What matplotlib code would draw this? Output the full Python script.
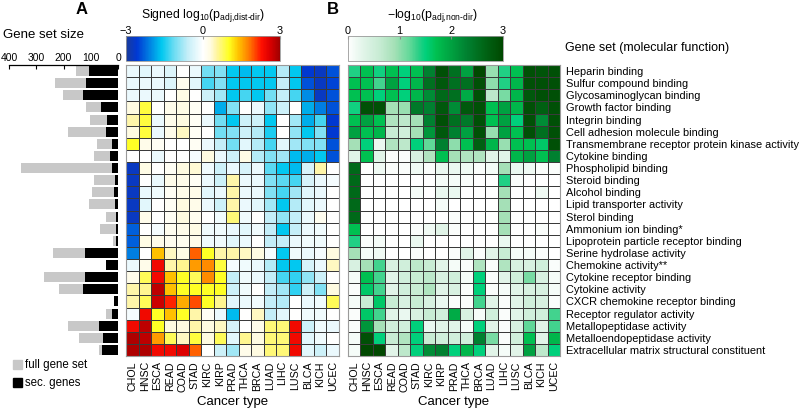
import numpy as np
import matplotlib
matplotlib.use("Agg")
import matplotlib.pyplot as plt
from matplotlib.colors import LinearSegmentedColormap, Normalize
from matplotlib.cm import ScalarMappable

plt.rcParams['font.family'] = ['Liberation Sans', 'DejaVu Sans']
plt.rcParams['mathtext.fontset'] = 'custom'
plt.rcParams['mathtext.rm'] = 'Liberation Sans'
plt.rcParams['mathtext.it'] = 'Liberation Sans'

cancer_types = ["CHOL", "HNSC", "ESCA", "READ", "COAD", "STAD", "KIRC", "KIRP", "PRAD",
                "THCA", "BRCA", "LUAD", "LIHC", "LUSC", "BLCA", "KICH", "UCEC"]

gene_sets = ["Heparin binding", "Sulfur compound binding", "Glycosaminoglycan binding",
             "Growth factor binding", "Integrin binding", "Cell adhesion molecule binding",
             "Transmembrane receptor protein kinase activity", "Cytokine binding",
             "Phospholipid binding", "Steroid binding", "Alcohol binding",
             "Lipid transporter activity", "Sterol binding", "Ammonium ion binding*",
             "Lipoprotein particle receptor binding", "Serine hydrolase activity",
             "Chemokine activity**", "Cytokine receptor binding", "Cytokine activity",
             "CXCR chemokine receptor binding", "Receptor regulator activity",
             "Metallopeptidase activity", "Metalloendopeptidase activity",
             "Extracellular matrix structural constituent"]

full_size = [155, 232, 201, 118, 101, 183, 76, 88, 357, 88, 95, 106, 43, 67, 18, 240,
             43, 270, 218, 13, 43, 183, 144, 71]
sec_size = [106, 116, 128, 63, 40, 45, 21, 28, 21, 11, 16, 11, 9, 6, 6, 120,
            43, 120, 128, 13, 21, 71, 55, 57]

signed_logp = [
    [-0.2, -0.3, -0.2, -0.35, 0.0, -0.2, -1.1, -1.0, -1.6, -1.7, -1.6, -1.6, -0.7, -1.6, -2.6, -2.7, -2.4],
    [-0.2, -0.2, -0.2, -0.35, 0.15, -0.3, -1.3, -1.0, -1.6, -1.6, -1.6, -1.6, -0.6, -1.6, -2.4, -2.7, -2.5],
    [-0.2, -0.2, -0.2, 0.0, 0.25, 0.0, -0.5, -0.8, -1.6, -1.3, -1.6, -1.1, -0.6, -1.3, -2.0, -2.7, -2.4],
    [0.3, 0.9, 0.0, 0.2, 0.25, 0.1, 0.0, -1.8, -1.0, 0.0, -0.2, -0.9, -0.5, 0.0, -1.8, -2.1, -2.4],
    [0.5, 0.9, -0.2, 0.2, 0.3, 0.1, -0.2, -1.1, -1.6, -0.5, -0.5, -1.6, 0.0, -0.8, -1.8, -1.3, -2.6],
    [0.3, 0.9, -0.2, 0.2, 0.4, 0.1, 0.0, -1.1, -1.0, -0.5, -0.7, -1.5, 0.0, -0.9, -1.6, -1.0, -2.6],
    [1.0, 0.2, 0.1, 0.0, 0.0, 0.1, -0.2, -0.6, -1.1, -0.3, -0.7, -1.3, -0.3, -0.8, -1.0, -1.0, -2.4],
    [0.0, 0.0, -0.2, 0.0, 0.0, -0.1, 0.3, -0.2, -0.5, 0.25, -0.7, -1.0, -0.8, -1.7, -1.8, -1.6, -2.4],
    [-2.7, 0.25, 0.0, 0.1, 0.3, 0.35, -0.15, -0.5, -0.2, -0.4, -0.2, -1.2, -1.6, -1.7, -0.4, 0.5, 0.0],
    [-2.7, 0.0, -0.2, 0.2, 0.2, 0.1, -0.2, -0.5, 0.5, -0.2, -0.2, -1.0, -1.2, -1.3, -0.4, -0.2, -0.1],
    [-2.7, -0.2, -0.15, 0.1, 0.2, 0.2, -0.3, -0.2, 0.5, -0.2, -0.2, -1.0, -1.3, -0.8, -0.3, -0.2, 0.0],
    [-2.7, -0.3, 0.0, 0.1, 0.3, 0.2, -0.2, -0.5, 0.5, -0.2, -0.3, -0.8, -1.6, -0.7, -0.3, -0.2, 0.0],
    [-2.7, 0.2, 0.0, 0.1, 0.3, 0.15, 0.0, -0.15, 0.7, -0.15, 0.0, -0.6, -0.9, -0.6, -0.2, 0.15, 0.0],
    [-2.3, 0.0, -0.1, 0.15, 0.2, 0.25, -0.15, -0.15, -0.2, -0.3, -0.15, -0.6, -1.6, -0.6, -0.2, -0.15, 0.0],
    [-2.3, 0.25, 0.2, 0.15, 0.15, 0.2, -0.15, -0.15, -0.3, -0.2, 0.0, -0.6, -0.6, -0.2, -0.15, -0.15, 0.0],
    [-2.1, 0.0, 1.4, 0.4, 0.25, 1.9, 1.0, 0.5, 0.5, 0.4, 0.3, -0.1, -1.6, -0.15, -0.2, -0.1, 0.3],
    [-0.2, 0.2, 2.4, 0.5, 0.6, 1.6, 1.7, 0.9, -0.1, -0.15, -0.2, -0.7, -1.6, -1.6, -0.4, -0.2, 0.4],
    [0.2, 0.8, 2.4, 1.4, 1.0, 0.8, 1.7, 1.0, -0.6, -0.15, -0.2, -0.6, -1.3, -1.4, -0.9, -0.5, 0.0],
    [0.5, 0.6, 2.8, 1.4, 1.0, 1.0, 1.0, 1.0, -0.5, -0.15, 0.0, -0.6, -0.8, -1.4, -0.5, -1.0, 0.3],
    [0.5, 0.8, 2.7, 2.2, 1.5, 2.0, 1.0, 0.6, -0.3, -0.2, -0.15, -0.6, -0.7, 0.0, -0.2, -0.15, 0.8],
    [-0.1, 2.4, 1.0, 1.4, 1.0, 0.5, 0.1, -0.2, -1.7, 0.0, 0.4, -0.6, -0.3, 0.0, -0.15, -0.15, 0.0],
    [2.4, 2.8, 1.0, 0.3, 0.3, 0.5, 0.3, 0.4, -0.4, 0.0, 0.2, 0.7, 0.7, 2.4, -0.5, -0.15, -0.2],
    [2.9, 2.8, 1.6, 0.8, 0.4, 0.9, 0.3, 0.8, -0.3, 0.6, 0.3, 0.7, 0.7, 2.4, -0.3, -0.15, 0.0],
    [2.9, 2.9, 2.4, 2.4, 2.6, 1.9, 0.0, -0.5, -0.8, 0.2, 0.3, 0.7, 0.7, 2.4, -0.3, -0.5, -0.2],
]

nondir_logp = [
    [1.4, 1.7, 1.45, 1.7, 1.5, 1.7, 2.3, 2.9, 2.5, 2.0, 3.0, 0.95, 1.4, 1.7, 2.9, 2.85, 2.9],
    [1.7, 1.7, 1.3, 2.0, 1.5, 1.8, 2.5, 2.8, 2.5, 2.5, 2.9, 1.0, 1.4, 1.8, 2.9, 2.9, 2.9],
    [1.7, 1.7, 1.5, 1.7, 1.5, 1.8, 2.2, 2.6, 2.5, 1.9, 2.9, 0.7, 1.1, 1.8, 2.8, 2.9, 2.9],
    [1.45, 2.9, 2.9, 0.9, 0.95, 2.4, 2.3, 2.8, 2.2, 2.8, 2.9, 1.7, 2.0, 1.8, 2.9, 2.7, 2.9],
    [1.7, 2.0, 1.7, 0.8, 0.7, 0.9, 2.3, 2.9, 2.5, 2.4, 2.9, 1.7, 2.0, 1.5, 2.9, 2.2, 2.9],
    [2.0, 1.7, 1.8, 0.6, 0.5, 0.9, 2.1, 2.8, 2.3, 2.0, 2.9, 0.95, 2.0, 1.7, 2.9, 2.5, 2.9],
    [0.9, 1.5, 0.2, 0.8, 0.7, 1.5, 1.2, 2.3, 1.0, 1.7, 2.7, 1.8, 0.95, 1.7, 1.7, 1.6, 2.9],
    [0.3, 1.7, 0.3, 0.05, 0.05, 0.4, 0.8, 1.7, 0.9, 0.8, 0.8, 0.3, 0.3, 1.8, 2.0, 1.7, 2.3],
    [2.6, 0.0, 0.15, 0.05, 0.05, 0.15, 0.05, 0.2, 0.2, 0.15, 0.05, 0.1, 0.9, 0.2, 0.15, 0.05, 0.05],
    [2.6, 0.0, 0.0, 0.0, 0.0, 0.0, 0.0, 0.1, 0.1, 0.05, 0.0, 0.0, 1.4, 0.05, 0.0, 0.0, 0.0],
    [2.6, 0.0, 0.0, 0.0, 0.0, 0.1, 0.0, 0.2, 0.2, 0.0, 0.0, 0.0, 0.9, 0.0, 0.0, 0.15, 0.0],
    [2.6, 0.0, 0.0, 0.0, 0.0, 0.0, 0.0, 0.1, 0.0, 0.0, 0.0, 0.0, 0.9, 0.0, 0.0, 0.0, 0.0],
    [2.6, 0.0, 0.0, 0.0, 0.0, 0.0, 0.0, 0.0, 0.05, 0.0, 0.0, 0.0, 0.9, 0.0, 0.0, 0.0, 0.0],
    [1.7, 0.0, 0.0, 0.0, 0.0, 0.05, 0.15, 0.3, 0.05, 0.0, 0.0, 0.0, 0.9, 0.0, 0.0, 0.05, 0.0],
    [1.4, 0.05, 0.1, 0.0, 0.0, 0.2, 0.0, 0.0, 0.0, 0.0, 0.0, 0.0, 0.2, 0.0, 0.0, 0.0, 0.0],
    [0.9, 0.1, 0.15, 0.0, 0.0, 0.05, 0.0, 0.0, 0.05, 0.3, 0.05, 0.3, 0.6, 0.1, 0.1, 0.05, 0.0],
    [0.4, 0.9, 1.3, 0.4, 0.5, 0.7, 0.6, 0.3, 0.1, 0.05, 0.8, 0.05, 0.8, 0.4, 0.4, 0.5, 0.05],
    [0.1, 1.7, 1.3, 0.3, 0.5, 0.6, 0.7, 0.4, 0.5, 0.1, 1.5, 0.05, 0.3, 0.5, 1.1, 0.4, 0.1],
    [0.05, 1.6, 1.3, 0.3, 0.5, 0.6, 0.8, 0.3, 0.4, 0.05, 1.5, 0.05, 0.1, 0.3, 0.4, 0.4, 0.1],
    [0.1, 0.6, 1.6, 0.6, 0.4, 0.6, 0.4, 0.2, 0.05, 0.05, 1.3, 0.3, 0.05, 0.3, 0.5, 0.4, 0.05],
    [0.05, 1.6, 1.3, 0.3, 0.2, 0.4, 0.6, 0.5, 1.9, 0.4, 0.1, 0.5, 0.05, 0.3, 0.5, 0.5, 1.3],
    [0.05, 2.1, 0.9, 0.5, 0.5, 1.5, 0.2, 0.3, 0.3, 0.1, 1.5, 0.3, 0.05, 0.4, 1.2, 0.3, 1.3],
    [0.1, 2.9, 1.5, 0.6, 0.8, 1.5, 0.6, 0.5, 0.5, 0.5, 2.3, 1.1, 0.05, 0.5, 1.7, 0.3, 1.8],
    [0.1, 3.0, 3.0, 0.3, 0.7, 1.5, 2.2, 2.3, 1.5, 1.8, 1.5, 0.3, 0.1, 0.3, 2.0, 0.7, 1.5],
]

W, H = 800, 410
fig = plt.figure(figsize=(W / 100, H / 100), dpi=100)


def box(x0, y0, x1, y1):
    return [x0 / W, 1 - y1 / H, (x1 - x0) / W, (y1 - y0) / H]


cmap_a = LinearSegmentedColormap.from_list("divA", [
    (0.00, "#1a3c9a"), (0.07, "#0038d4"), (0.16, "#0088e4"), (0.23, "#00c8f0"),
    (0.31, "#6adcf2"), (0.40, "#c4eef8"), (0.50, "#ffffff"), (0.55, "#fffbe0"),
    (0.59, "#fff5a0"), (0.67, "#ffff20"), (0.73, "#ffc400"), (0.80, "#ff7a00"),
    (0.88, "#ff1000"), (0.93, "#e00000"), (1.00, "#a00000")])
cmap_b = LinearSegmentedColormap.from_list("grnB", [
    (0.00, "#ffffff"), (0.10, "#e0f4e8"), (0.20, "#c8ecd4"), (0.30, "#a4e0b6"),
    (0.40, "#60d898"), (0.45, "#30d088"), (0.50, "#00d07c"), (0.57, "#00c050"),
    (0.67, "#00a040"), (0.77, "#008030"), (0.87, "#006818"), (1.00, "#004800")])

nr, nc = len(gene_sets), len(cancer_types)
y_top, y_bot = 66, 357

# --- bar chart of gene set sizes ---
axb = fig.add_axes(box(9, y_top, 118, y_bot))
ypos = np.arange(nr) + 0.5
axb.barh(ypos, full_size, height=0.82, color="#c8c8c8")
axb.barh(ypos, sec_size, height=0.82, color="black")
axb.set_xlim(400, 0)
axb.set_ylim(nr, 0)
axb.xaxis.set_ticks_position("top")
axb.set_xticks([400, 300, 200, 100, 0])
axb.tick_params(axis="x", direction="in", length=3, labelsize=7.5, pad=2)
axb.set_yticks([])
for s in ["left", "right", "bottom"]:
    axb.spines[s].set_visible(False)
axb.spines["top"].set_linewidth(0.9)
fig.text(3 / W, 1 - 35 / H, "Gene set size", fontsize=9.5, va="center", ha="left")


def heat(ax, data, cmap, vmin, vmax):
    ax.pcolormesh(np.arange(nc + 1), np.arange(nr + 1), np.array(data), cmap=cmap,
                  vmin=vmin, vmax=vmax, edgecolors="#3a3a3a", linewidth=0.7)
    ax.set_xlim(0, nc)
    ax.set_ylim(nr, 0)
    ax.set_yticks([])
    ax.set_xticks(np.arange(nc) + 0.5)
    ax.set_xticklabels(cancer_types, rotation=90, fontsize=7.7)
    ax.tick_params(axis="x", length=0, pad=3)
    for s in ax.spines.values():
        s.set_color("#9a9a9a")
        s.set_linewidth(0.8)
    ax.set_xlabel("Cancer type", fontsize=9.5, labelpad=3)


axA = fig.add_axes(box(126, y_top, 339, y_bot))
heat(axA, signed_logp, cmap_a, -3, 3)
axB = fig.add_axes(box(348, y_top, 560, y_bot))
heat(axB, nondir_logp, cmap_b, 0, 3)

for i, name in enumerate(gene_sets):
    axB.text(nc + 0.5, i + 0.5, name, fontsize=7.9, va="center", ha="left", clip_on=False)
fig.text(565 / W, 1 - 48 / H, "Gene set (molecular function)", fontsize=9, va="center")

# --- colorbars ---
caxA = fig.add_axes(box(126, 37, 280, 62))
cbA = fig.colorbar(ScalarMappable(Normalize(-3, 3), cmap_a), cax=caxA, orientation="horizontal")
cbA.set_ticks([-3, 0, 3])
caxB = fig.add_axes(box(348, 37, 503, 62))
cbB = fig.colorbar(ScalarMappable(Normalize(0, 3), cmap_b), cax=caxB, orientation="horizontal")
cbB.set_ticks([0, 1, 2, 3])
for cb in (cbA, cbB):
    cb.ax.xaxis.set_ticks_position("top")
    cb.ax.tick_params(labelsize=7.8, length=2, pad=1, direction="in", color="#888888")
    cb.outline.set_edgecolor("#999999")
    cb.outline.set_linewidth(0.6)

fig.text(203 / W, 1 - 16 / H, r"Signed log$_{10}$(p$_{\text{adj,dist-dir}}$)",
         fontsize=8.8, ha="center", va="center")
fig.text(432 / W, 1 - 16 / H, r"$-$log$_{10}$(p$_{\text{adj,non-dir}}$)",
         fontsize=8.8, ha="center", va="center")

fig.text(82 / W, 1 - 9 / H, "A", fontsize=12, fontweight="bold", ha="center", va="center")
fig.text(333 / W, 1 - 10 / H, "B", fontsize=12, fontweight="bold", ha="center", va="center")

# --- legend ---
fig.patches.append(plt.Rectangle((13 / W, 1 - 370 / H), 9 / W, 9 / H, color="#c8c8c8",
                                 transform=fig.transFigure, figure=fig))
fig.patches.append(plt.Rectangle((13 / W, 1 - 388 / H), 9 / W, 9 / H, color="black",
                                 transform=fig.transFigure, figure=fig))
fig.text(25 / W, 1 - 365.5 / H, "full gene set", fontsize=8.3, va="center")
fig.text(25 / W, 1 - 383.5 / H, "sec. genes", fontsize=8.3, va="center")

fig.savefig("out.png", dpi=100)
